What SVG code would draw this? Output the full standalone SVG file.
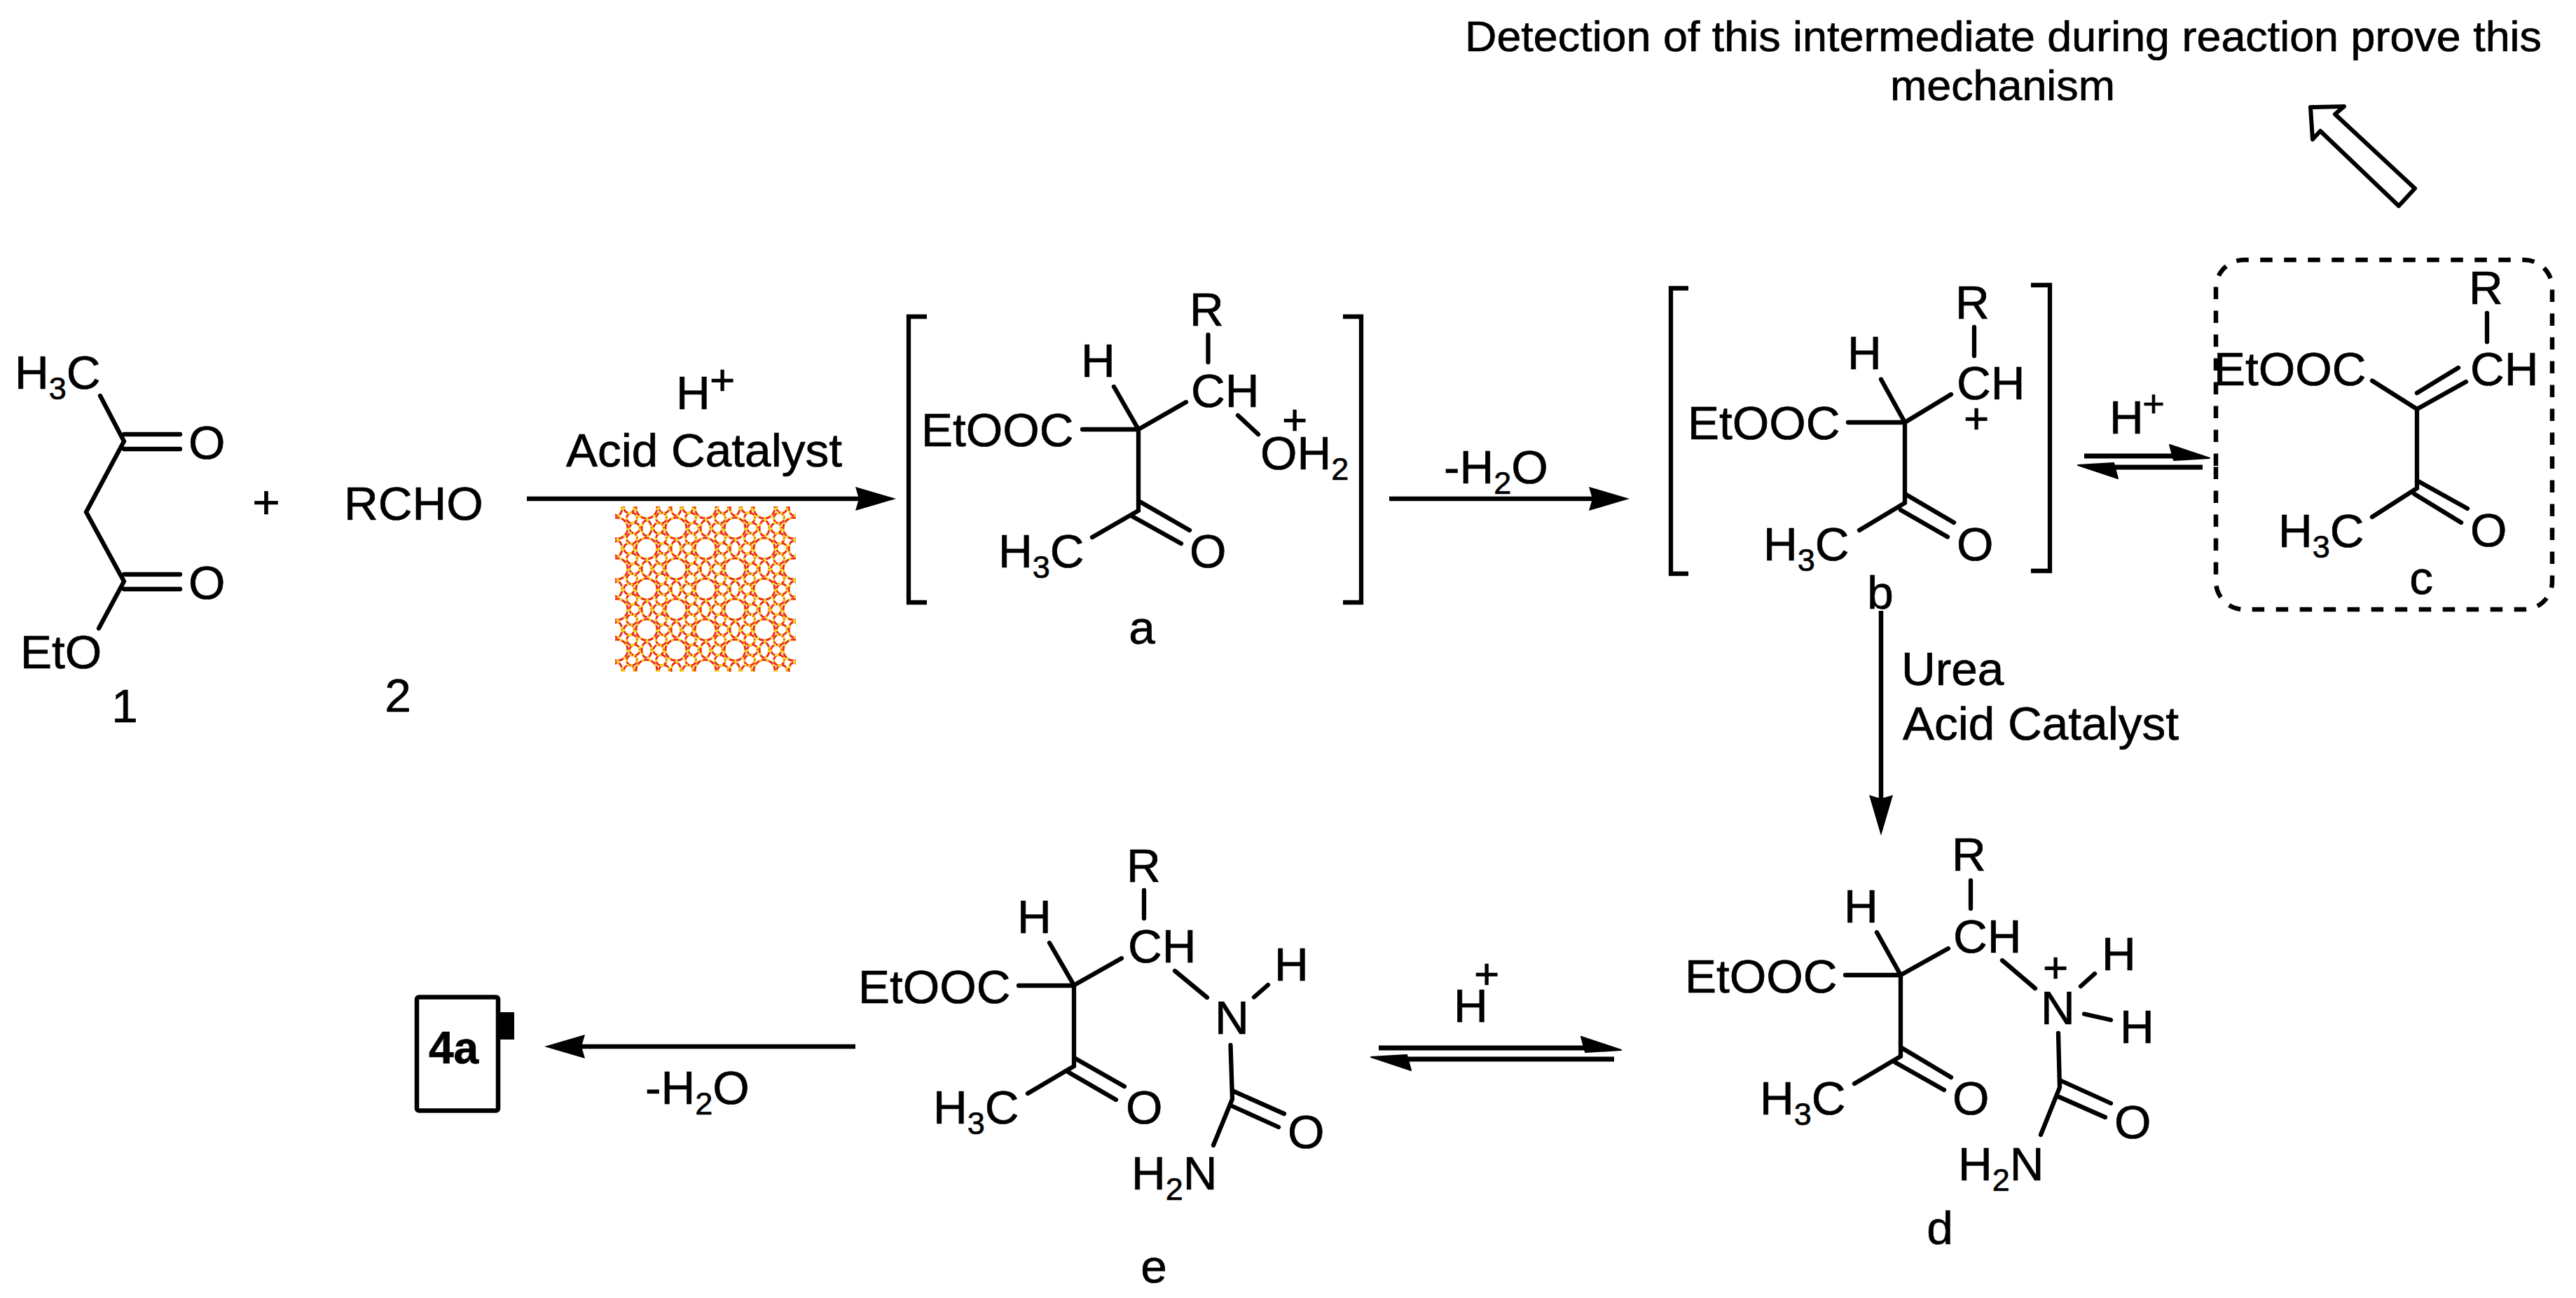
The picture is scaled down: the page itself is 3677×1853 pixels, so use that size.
<svg xmlns="http://www.w3.org/2000/svg" width="3677" height="1853" viewBox="0 0 3677 1853">
<style>
text{font-family:"Liberation Sans",Arial,sans-serif;font-size:67.5px;fill:#000;stroke:#000;stroke-width:.7}
.s{font-size:45px}
.sup{font-size:62px;text-anchor:middle}
.c{text-anchor:middle}
.b{stroke:#000;stroke-width:6.3;stroke-linecap:round;fill:none}
.br{stroke:#000;stroke-width:6.3;fill:none;stroke-linejoin:miter}
.ar{stroke:#000;stroke-width:6.5;fill:none}
.eq{stroke:#000;stroke-width:7;fill:none;marker-end:url(#harpoon)}
.head{marker-end:url(#head)}
.rr{fill:none;stroke:#ee2a1a;stroke-width:3}
.yy{fill:none;stroke:#f4d81c;stroke-width:3.4;stroke-dasharray:3.5 7}
</style>
<defs>
<marker id="head" markerUnits="userSpaceOnUse" viewBox="0 0 58 34" markerWidth="58" markerHeight="34" refX="5" refY="17" orient="auto"><path d="M0,0 L58,17 L0,34 L5,17 Z" fill="#000"/></marker>
<marker id="harpoon" markerUnits="userSpaceOnUse" viewBox="0 0 60 24" markerWidth="60" markerHeight="24" refX="7" refY="17" orient="auto"><path d="M1,1 L58,20 L7,23 Z" fill="#000" stroke="#000" stroke-width="2" stroke-linejoin="round"/></marker>
<g id="rings">
<circle cx="0" cy="0" r="15"/><circle cx="84" cy="0" r="15"/><circle cx="0" cy="58" r="15"/><circle cx="84" cy="58" r="15"/><circle cx="42" cy="29" r="15"/>
<ellipse cx="42" cy="0" rx="7" ry="11"/><ellipse cx="42" cy="58" rx="7" ry="11"/><ellipse cx="0" cy="29" rx="7" ry="11"/><ellipse cx="84" cy="29" rx="7" ry="11"/>
<circle cx="21" cy="14.5" r="7.5"/><circle cx="63" cy="14.5" r="7.5"/><circle cx="21" cy="43.5" r="7.5"/><circle cx="63" cy="43.5" r="7.5"/>
<circle cx="25" cy="0" r="7.5"/><circle cx="59" cy="0" r="7.5"/><circle cx="25" cy="58" r="7.5"/><circle cx="59" cy="58" r="7.5"/><circle cx="17" cy="29" r="7.5"/><circle cx="67" cy="29" r="7.5"/>
</g>
<pattern id="zeolite" patternUnits="userSpaceOnUse" x="923" y="783" width="84" height="58">
<use href="#rings" class="rr"/><use href="#rings" class="yy"/>
</pattern>
</defs>
<rect width="3677" height="1853" fill="#fff"/>

<g id="connectors">
<line class="ar head" x1="752" y1="712" x2="1226" y2="712"/>
<line class="ar head" x1="1983" y1="712" x2="2273" y2="712"/>
<line class="ar head" x1="2685" y1="872" x2="2685" y2="1140"/>
<line class="ar head" x1="1221" y1="1494" x2="830" y2="1494"/>
<line class="eq" x1="2975" y1="651" x2="3103" y2="651"/>
<line class="eq" x1="3144" y1="667" x2="3017" y2="667"/>
<line class="eq" x1="1968" y1="1496" x2="2263" y2="1496"/>
<line class="eq" x1="2304" y1="1512" x2="2008" y2="1512"/>
<path id="hollow-arrow" d="M3298,153 L3346,152 L3333,163 L3447,269 L3424,294 L3312,187 L3301,199 Z" fill="#fff" stroke="#000" stroke-width="6" stroke-linejoin="round"/>
</g>

<g id="note">
<text x="2091" y="73" style="font-size:61px" textLength="1537" lengthAdjust="spacingAndGlyphs">Detection of this intermediate during reaction prove this</text>
<text x="2698" y="143" style="font-size:61px" textLength="321" lengthAdjust="spacingAndGlyphs">mechanism</text>
</g>

<g id="compound-1">
<path class="b" d="M143,565 L177,630 L123,731 L177,830 L141,897"/>
<path class="b" d="M177,620 H257 M177,641 H257 M177,820 H257 M177,841 H257"/>
<text x="21" y="555">H<tspan class="s" dy="15">3</tspan><tspan dy="-15">C</tspan></text>
<text x="269" y="655">O</text>
<text x="269" y="855">O</text>
<text x="29" y="954">EtO</text>
<text class="c" x="178" y="1031">1</text>
</g>
<text id="plus" class="c" x="380" y="740">+</text>
<g id="compound-2">
<text x="491" y="742">RCHO</text>
<text class="c" x="568" y="1016">2</text>
</g>

<g id="reagents-1">
<text x="965" y="584">H</text>
<text class="sup" x="1031" y="563">+</text>
<text x="808" y="666">Acid Catalyst</text>
</g>
<g id="catalyst">
<rect x="878" y="723" width="258" height="236" fill="url(#zeolite)"/>
</g>

<g id="compound-a">
<path class="br" d="M1323,452 H1297 V860 H1323 M1917,452 H1943 V860 H1917"/>
<path class="b" d="M1724.5,478 V517 M1590,552 L1625,613 L1693,574 M1545,613 H1625 V729 L1559,767 M1625,715 L1698,757 M1616,737 L1686,776 M1767,593 L1796,620"/>
<text x="1698" y="465">R</text>
<text x="1700" y="581">CH</text>
<text x="1543" y="538">H</text>
<text x="1315" y="637">EtOOC</text>
<text x="1425" y="810">H<tspan class="s" dy="15">3</tspan><tspan dy="-15">C</tspan></text>
<text x="1698" y="810">O</text>
<text x="1799" y="670">OH<tspan class="s" dy="15">2</tspan></text>
<text class="sup" x="1848" y="620">+</text>
<text class="c" x="1630" y="919">a</text>
</g>

<g id="reagent-ab">
<text x="2061" y="690">-H<tspan class="s" dy="15">2</tspan><tspan dy="-15">O</tspan></text>
</g>

<g id="compound-b">
<path class="br" d="M2410,411.5 H2385 V819 H2410 M2899,407 H2926 V815 H2899"/>
<path class="b" d="M2818,467 V508 M2685,541.5 L2719,603 L2785,563 M2638,603 H2719 V718 L2654,757 M2719,705 L2789,746 M2713,728 L2780,766.5"/>
<text x="2791" y="455">R</text>
<text x="2793" y="570">CH</text>
<text x="2637" y="527">H</text>
<text class="sup" x="2821" y="618">+</text>
<text x="2409" y="627">EtOOC</text>
<text x="2517" y="800">H<tspan class="s" dy="15">3</tspan><tspan dy="-15">C</tspan></text>
<text x="2793" y="800">O</text>
<text class="c" x="2684" y="869">b</text>
</g>

<g id="reagent-bc">
<text x="3011" y="619">H</text>
<text class="sup" style="font-size:54px" x="3074" y="595">+</text>
</g>

<g id="compound-c">
<path d="M3163,665 V411 A40,40 0 0 1 3203,371 H3603 A40,40 0 0 1 3643,411 V830 A40,40 0 0 1 3603,870 H3203 A40,40 0 0 1 3163,830 Z" fill="none" stroke="#000" stroke-width="6.5" stroke-dasharray="17.5 16.5"/>
<path class="b" d="M3550,447 V488 M3386,543.5 L3450,584 L3520,545 M3450,561 L3509,525 M3450,584 V697 L3386,738 M3450,686 L3522,726 M3446,705 L3513,746"/>
<text x="3524" y="434">R</text>
<text x="3526" y="550">CH</text>
<text x="3160" y="550">EtOOC</text>
<text x="3252" y="781">H<tspan class="s" dy="15">3</tspan><tspan dy="-15">C</tspan></text>
<text x="3526" y="780">O</text>
<text class="c" x="3456" y="848">c</text>
</g>

<g id="reagents-bd">
<text x="2714" y="978">Urea</text>
<text x="2716" y="1056">Acid Catalyst</text>
</g>

<g id="compound-d">
<path class="b" d="M2813,1257 V1297 M2679,1331 L2713,1392 L2781,1354 M2634,1392 H2713 V1508 L2647,1547 M2713,1495 L2785,1538 M2705,1516.5 L2775,1556 M2858,1371 L2905,1411 M2990,1390 L2970,1408 M2975,1447.5 L3013,1456 M2938,1475 L2940,1552.5 L2913,1620 M2940,1542 L3013,1575 M2937,1565 L3005,1595"/>
<text x="2786" y="1243">R</text>
<text x="2788" y="1360">CH</text>
<text x="2632" y="1317">H</text>
<text x="2405" y="1417">EtOOC</text>
<text x="2512" y="1591">H<tspan class="s" dy="15">3</tspan><tspan dy="-15">C</tspan></text>
<text x="2787" y="1591">O</text>
<text x="2913" y="1462">N</text>
<text class="sup" x="2934" y="1402">+</text>
<text x="3000" y="1385">H</text>
<text x="3026" y="1489">H</text>
<text x="3018" y="1625">O</text>
<text x="2795" y="1685">H<tspan class="s" dy="15">2</tspan><tspan dy="-15">N</tspan></text>
<text class="c" x="2769" y="1776">d</text>
</g>

<g id="reagent-ed">
<text x="2075" y="1459">H</text>
<text class="sup" x="2122" y="1411">+</text>
</g>

<g id="compound-e">
<path class="b" d="M1633,1271 V1311 M1498,1346 L1533,1406.5 L1601,1368 M1454,1407 H1533 V1522 L1467,1561 M1533,1510 L1605,1551 M1524,1530 L1593,1570 M1677,1386 L1723,1424 M1810,1406 L1790,1423.5 M1756.5,1492 L1759,1569 L1732,1635 M1759,1557 L1833,1590 M1756.5,1578 L1825,1609"/>
<text x="1608" y="1259">R</text>
<text x="1610" y="1374">CH</text>
<text x="1452" y="1332">H</text>
<text x="1225" y="1432">EtOOC</text>
<text x="1332" y="1604">H<tspan class="s" dy="15">3</tspan><tspan dy="-15">C</tspan></text>
<text x="1607" y="1604">O</text>
<text x="1734" y="1476">N</text>
<text x="1819" y="1400">H</text>
<text x="1838" y="1639">O</text>
<text x="1615" y="1698">H<tspan class="s" dy="15">2</tspan><tspan dy="-15">N</tspan></text>
<text class="c" x="1647" y="1831">e</text>
</g>

<g id="reagent-e4a">
<text x="921" y="1576">-H<tspan class="s" dy="15">2</tspan><tspan dy="-15">O</tspan></text>
</g>

<g id="product-4a">
<rect x="595" y="1423.5" width="116" height="162" rx="3" fill="#fff" stroke="#000" stroke-width="6.5"/>
<rect x="714" y="1445" width="20" height="39" fill="#000"/>
<text x="612" y="1518" style="font-size:64px;font-weight:bold">4a</text>
</g>
</svg>
